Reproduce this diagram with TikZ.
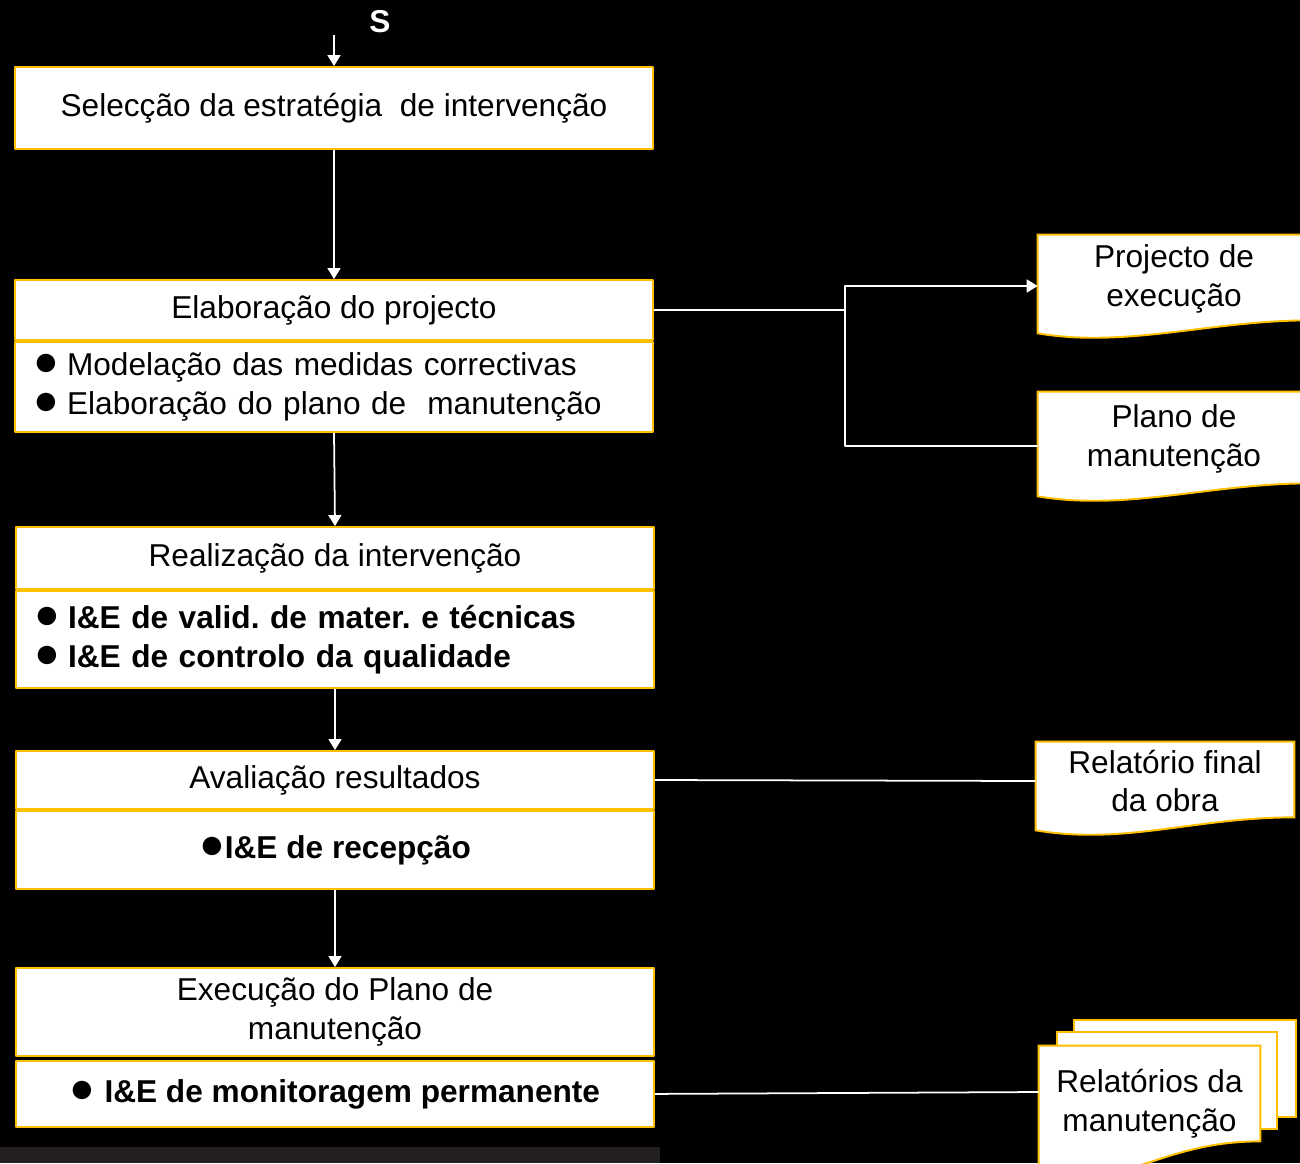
\documentclass[tikz,border=0pt]{standalone}
\usepackage{fontspec}
\setmainfont{Liberation Sans}
\usetikzlibrary{positioning,calc,backgrounds,arrows.meta}
\definecolor{gold}{HTML}{FFC000}
\definecolor{barcol}{HTML}{231F20}
\frenchspacing
% big round bullet, list form and inline form
\newcommand{\bul}{\hspace*{-0.08cm}\rlap{\scalebox{1.35}{●}}\hspace{0.68cm}}
\newcommand{\ibul}{\scalebox{1.35}{●}}
\tikzset{
	box/.style={draw=gold, fill=white, line width=1.1pt, inner sep=0pt, minimum width=12.76cm, align=center},
	listbox/.style={align=left, text width=11.88cm, inner xsep=0.44cm},
	docnode/.style={inner sep=0pt, align=center},
	docline/.style={draw=gold, fill=white, line width=1.1pt},
	line/.style={draw=white, line width=1pt}
}
% document outline round a named node, #2 = right end, #3 = left end (down from south)
\newcommand{\docshape}[3]{%
	\begin{scope}[on background layer]
		\draw[docline] ($(#1.south east)+(0,#2)$) -- (#1.north east) -- (#1.north west) -- ($(#1.south west)+(0,#3)$)
			.. controls +(90,15) and +(-100,0) .. ($(#1.south east)+(0,#2)$) -- cycle;
	\end{scope}}
\begin{document}
\begin{tikzpicture}[x=0.02cm, y=-0.02cm, font=\fontsize{18}{22}\selectfont, line join=round, >={Triangle[length=0.22cm,width=0.26cm]}]
	\useasboundingbox (0,0) rectangle (1300,1163);
	\begin{scope}[on background layer]
		\fill[black] (0,0) rectangle (1300,1163);
	\end{scope}
	\fill[barcol] (0,1147) rectangle (660,1163);
	% main column
	\node[text=white, font=\fontsize{18}{22}\selectfont\bfseries] (start) at (380,22) {S};
	\coordinate (in) at (334,35);
	\node[box, minimum height=1.64cm] (select) at (334,108) {Selecção da estratégia~ de intervenção};
	\node[box, minimum height=1.2cm] (elabhead) at (334,310) {Elaboração do projecto};
	\node[box, listbox, minimum height=1.8cm, below=0pt of elabhead] (elabbody) {\bul Modelação das medidas correctivas\\\bul Elaboração do plano de~ manutenção};
	\node[box, minimum height=1.24cm] (realhead) at (335,558) {Realização da intervenção};
	\node[box, listbox, minimum height=1.94cm, below=0pt of realhead, font=\fontsize{18}{22}\selectfont\bfseries] (realbody) {\bul I\&E de valid. de mater. e técnicas\\\bul I\&E de controlo da qualidade};
	\node[box, minimum height=1.16cm] (avalhead) at (335,780) {Avaliação resultados};
	\node[box, minimum height=1.56cm, below=0pt of avalhead, font=\fontsize{18}{22}\selectfont\bfseries] (avalbody) {\ibul I\&E de recepção};
	\node[box, minimum height=1.76cm] (exechead) at (335,1012) {Execução do Plano de\\manutenção};
	\node[box, minimum height=1.32cm, below=0.06cm of exechead, font=\fontsize{18}{22}\selectfont\bfseries] (execbody) {\ibul\ I\&E de monitoragem permanente};
	\draw[line, ->] (in) -- (select.north);
	\draw[line, ->] (select.south) -- (elabhead.north);
	\draw[line, ->] (elabbody.south) -- (realhead.north);
	\draw[line, ->] (realbody.south) -- (avalhead.north);
	\draw[line, ->] (avalbody.south) -- (exechead.north);
	% documents
	\node[docnode, minimum width=5.44cm, minimum height=1.76cm] (proj) at (1174,279) {Projecto de\\execução};
	\docshape{proj}{-3}{10}
	\node[docnode, minimum width=5.44cm, minimum height=1.88cm] (plano) at (1174,439) {Plano de\\manutenção};
	\docshape{plano}{-3}{10}
	\node[docnode, minimum width=5.16cm, minimum height=1.56cm] (relfinal) at (1165,781) {Relatório final\\da obra};
	\docshape{relfinal}{-3}{10}
	\begin{scope}[on background layer]
		\draw[docline] (1074,1020) rectangle (1296,1117);
		\draw[docline] (1057,1032) rectangle (1277,1129);
	\end{scope}
	\node[docnode, minimum width=4.42cm, minimum height=2.32cm] (reldoc) at (1149.5,1104) {Relatórios da\\manutenção};
	\docshape{reldoc}{-21}{12}
	% connectors to documents
	\coordinate (fork) at (845,310);
	\draw[line] (elabhead.east) -- (fork);
	\draw[line, ->] (fork) |- ([yshift=-0.14cm]proj.west);
	\draw[line] (fork) |- ([yshift=-0.14cm]plano.west);
	\draw[line] (avalhead.east) -- (relfinal.west);
	\draw[line] (execbody.east) -- ([yshift=0.24cm]reldoc.west);
\end{tikzpicture}
\end{document}
